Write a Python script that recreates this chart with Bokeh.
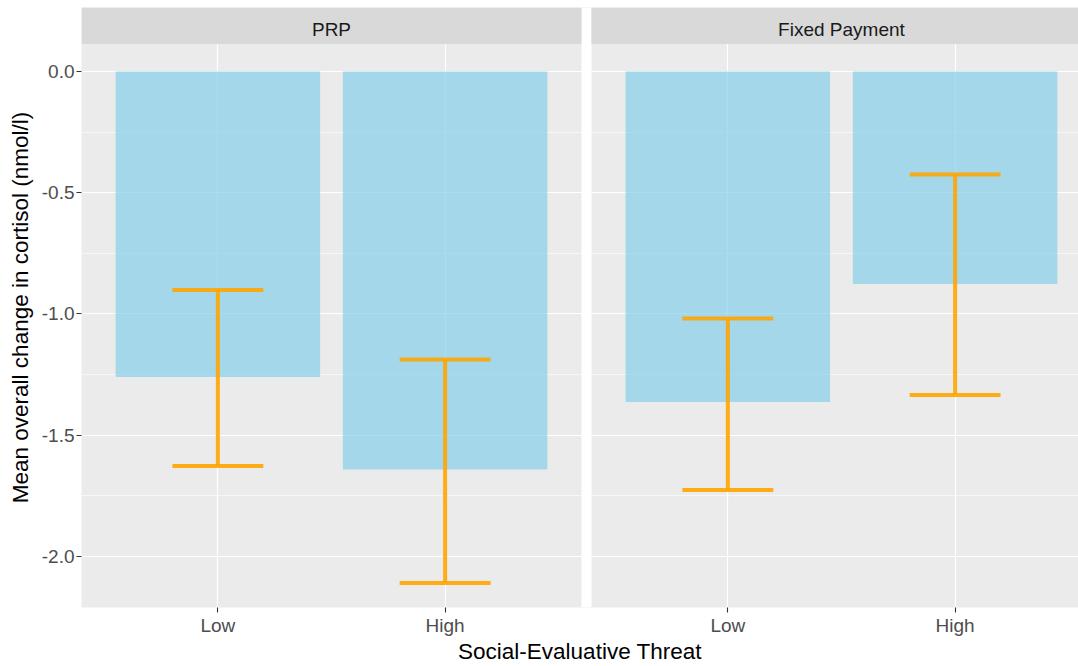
from bokeh.plotting import figure
from bokeh.models import Range1d, FixedTicker, PrintfTickFormatter, ColumnDataSource
from bokeh.core.properties import value
from bokeh.embed import file_html
from bokeh.resources import INLINE

# ---------------- data ----------------
panels = ["PRP", "Fixed Payment"]
threat_levels = ["Low", "High"]
prp_mean = [-1.260, -1.641]
prp_lower = [-1.627, -2.109]
prp_upper = [-0.901, -1.188]
fixed_mean = [-1.363, -0.876]
fixed_lower = [-1.726, -1.334]
fixed_upper = [-1.019, -0.425]
y_ticks = [0.0, -0.5, -1.0, -1.5, -2.0]
y_minor = [-0.25, -0.75, -1.25, -1.75]

# ---------------- layout constants ----------------
FONT = "Liberation Sans"
PANEL_W = 2.2          # discrete scale: 0.4 .. 2.6 per panel
GAP = 0.044            # white gap between panels (data units)
X_START, X_END = 0.4, 4.787
Y_START, Y_END = -2.2103, 0.2639
STRIP_BOTTOM = 0.1134
BAR_W, CAP_W = 0.9, 0.4

offsets = [0.0, PANEL_W + GAP]
xs, means, lows, ups, tick_pos, tick_lab = [], [], [], [], [], []
for off, m, lo, up in zip(offsets, [prp_mean, fixed_mean], [prp_lower, fixed_lower], [prp_upper, fixed_upper]):
    for i, lvl in enumerate(threat_levels):
        xs.append(off + i + 1)
        means.append(m[i])
        lows.append(lo[i])
        ups.append(up[i])
        tick_pos.append(round(off + i + 1, 4))
        tick_lab.append(lvl)

src = ColumnDataSource(dict(
    x=xs, mean=means, lo=lows, up=ups,
    cl=[v - CAP_W / 2 for v in xs], cr=[v + CAP_W / 2 for v in xs],
))

p = figure(width=1078, height=666, output_backend="svg", toolbar_location=None,
           x_range=Range1d(X_START, X_END), y_range=Range1d(Y_START, Y_END),
           min_border_left=81, min_border_right=0, min_border_top=7, min_border_bottom=59)
p.background_fill_color = "#EBEBEB"
p.border_fill_color = "white"
p.outline_line_color = None

# grids
p.xgrid.ticker = FixedTicker(ticks=tick_pos, minor_ticks=[])
p.xgrid.grid_line_color = "white"
p.xgrid.grid_line_width = 1.2
p.ygrid.ticker = FixedTicker(ticks=y_ticks, minor_ticks=y_minor)
p.ygrid.grid_line_color = "white"
p.ygrid.grid_line_width = 1.2
p.ygrid.minor_grid_line_color = "white"
p.ygrid.minor_grid_line_width = 0.6

# bars
p.vbar(x="x", top="mean", bottom=0, width=BAR_W, source=src,
       fill_color="skyblue", fill_alpha=0.7, line_color=None)

# error bars
p.segment(x0="x", x1="x", y0="lo", y1="up", source=src,
          line_color="orange", line_alpha=0.9, line_width=4)
p.segment(x0="cl", x1="cr", y0="lo", y1="lo", source=src,
          line_color="orange", line_alpha=0.9, line_width=4)
p.segment(x0="cl", x1="cr", y0="up", y1="up", source=src,
          line_color="orange", line_alpha=0.9, line_width=4)

# white gap between panels
gap_left = offsets[1] + 0.4 - GAP
p.quad(left=[gap_left], right=[gap_left + GAP], bottom=[Y_START], top=[Y_END],
       fill_color="white", line_color=None)

# facet strips
strip_left = [off + 0.4 for off in offsets]
strip_right = [off + 0.4 + PANEL_W for off in offsets]
p.quad(left=strip_left, right=strip_right, bottom=STRIP_BOTTOM, top=Y_END,
       fill_color="#D9D9D9", line_color=None)
p.text(x=[off + 1.5 for off in offsets], y=[0.172] * len(panels), text=panels,
       text_align="center", text_baseline="middle",
       text_font=value(FONT), text_font_size="19px", text_color="#1A1A1A")

# axes
xa = p.xaxis[0]
xa.ticker = FixedTicker(ticks=tick_pos, minor_ticks=[])
xa.major_label_overrides = {t: l for t, l in zip(tick_pos, tick_lab)}
xa.axis_label = "Social-Evaluative Threat"
ya = p.yaxis[0]
ya.ticker = FixedTicker(ticks=y_ticks, minor_ticks=y_minor)
ya.formatter = PrintfTickFormatter(format="%.1f")
ya.axis_label = "Mean overall change in cortisol (nmol/l)"
for ax in (xa, ya):
    ax.axis_line_color = None
    ax.major_tick_out = 5
    ax.major_tick_in = 0
    ax.minor_tick_out = 0
    ax.minor_tick_in = 0
    ax.major_tick_line_color = "#333333"
    ax.major_tick_line_width = 1.1
    ax.major_label_text_font = FONT
    ax.major_label_text_font_size = "19px"
    ax.major_label_text_color = "#4D4D4D"
    ax.axis_label_text_font = FONT
    ax.axis_label_text_font_size = "22.5px"
    ax.axis_label_text_font_style = "normal"
    ax.axis_label_text_color = "black"
xa.major_label_standoff = 2
xa.axis_label_standoff = 0
ya.major_label_standoff = 2
ya.axis_label_standoff = 6

open("out.html", "w").write(file_html(p, INLINE))
